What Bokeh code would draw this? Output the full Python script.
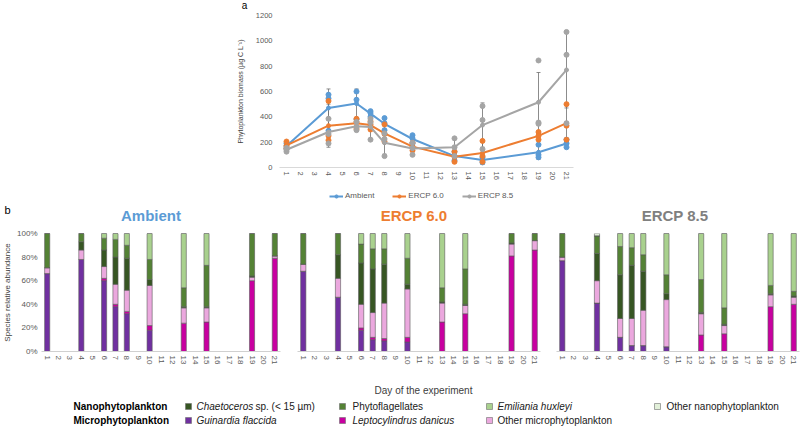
import math
from bokeh.plotting import figure
from bokeh.models import (ColumnDataSource, FactorRange, Range1d, Legend, LegendItem,
                          Whisker, TeeHead, PrintfTickFormatter, FixedTicker)
from bokeh.layouts import column, row
from bokeh.embed import file_html
from bokeh.resources import INLINE
from bokeh.core.properties import value

FONT = "Liberation Sans"
GREY_TXT = "#595959"

# ---------------- data ----------------
days = [str(d) for d in range(1, 22)]
sample_days = ["1", "4", "6", "7", "8", "10", "13", "15", "19", "21"]

# panel a: phytoplankton biomass (ug C L-1)
amb_mean = [170, 470, 505, 425, 345, 225, 90, 60, 120, 190]
e60_mean = [175, 330, 350, 335, 270, 165, 85, 115, 250, 350]
e85_mean = [140, 280, 325, 320, 195, 150, 160, 335, 515, 770]
amb_err = [20, 150, 115, 25, 50, 35, 35, 20, 55, 30]
e60_err = [30, 170, 40, 35, 70, 30, 40, 90, 30, 145]
e85_err = [15, 95, 35, 90, 90, 50, 70, 175, 235, 300]
amb_r1 = [150, 575, 600, 445, 390, 255, 125, 80, 180, 220]
amb_r2 = [170, 545, 535, 430, 350, 230, 90, 60, 100, 190]
amb_r3 = [190, 290, 380, 400, 295, 190, 55, 40, 80, 160]
e60_r1 = [205, 525, 385, 365, 340, 195, 125, 210, 280, 500]
e60_r2 = [170, 250, 360, 340, 265, 165, 85, 90, 250, 330]
e60_r3 = [150, 215, 305, 300, 205, 135, 45, 45, 220, 220]
e85_r1 = [155, 385, 360, 385, 270, 195, 230, 485, 845, 1070]
e85_r2 = [140, 265, 320, 355, 225, 155, 160, 375, 355, 890]
e85_r3 = [125, 190, 295, 220, 90, 100, 90, 145, 345, 350]

# panel b: species relative abundance (%)
amb_guin = [66, 78, 60, 38, 32, 18, 0, 0, 0, 0]
amb_lept = [0, 0, 2, 2, 2, 4, 24, 25, 60, 79]
amb_omic = [5, 8, 10, 17, 18, 34, 13, 12, 3, 2]
amb_chae = [0, 7, 14, 23, 27, 5, 1, 1, 1, 0]
amb_phyt = [29, 7, 10, 15, 11, 17, 16, 35, 36, 19]
amb_emil = [0, 0, 4, 5, 10, 22, 46, 27, 0, 0]
amb_onan = [0, 0, 0, 0, 0, 0, 0, 0, 0, 0]

e60_guin = [68, 46, 18, 10, 9, 8, 0, 0, 0, 0]
e60_lept = [0, 0, 2, 2, 2, 4, 25, 32, 81, 86]
e60_omic = [6, 16, 20, 21, 30, 41, 16, 7, 10, 8]
e60_chae = [0, 20, 35, 37, 33, 4, 1, 1, 1, 0]
e60_phyt = [26, 18, 16, 17, 13, 22, 12, 30, 8, 6]
e60_emil = [0, 0, 9, 13, 13, 21, 46, 30, 0, 0]
e60_onan = [0, 0, 0, 0, 0, 0, 0, 0, 0, 0]

e85_guin = [77, 41, 12, 5, 5, 4, 0, 0, 0, 0]
e85_lept = [0, 0, 0, 0, 0, 0, 14, 15, 38, 40]
e85_omic = [3, 19, 16, 23, 30, 40, 18, 7, 10, 6]
e85_chae = [0, 23, 37, 45, 33, 5, 1, 1, 1, 1]
e85_phyt = [20, 15, 24, 15, 14, 16, 28, 14, 7, 4]
e85_emil = [0, 0, 11, 12, 18, 35, 39, 63, 44, 49]
e85_onan = [0, 2, 0, 0, 0, 0, 0, 0, 0, 0]

stack_keys = ["guin", "lept", "omic", "chae", "phyt", "emil", "onan"]
stack_colors = ["#7030A0", "#C800A0", "#EBA8DE", "#375623", "#548235", "#A9D18E", "#E2F0D9"]

treat_names = ["Ambient", "ERCP 6.0", "ERCP 8.5"]
treat_colors = ["#5B9BD5", "#ED7D31", "#A5A5A5"]
title_colors = ["#5B9BD5", "#ED7D31", "#808080"]

tf = value(FONT)
W = 800


def text_strip(height, top):
    """A bare figure whose data units are page pixels (for titles and legends)."""
    f = figure(width=W, height=height, x_range=Range1d(0, W),
               y_range=Range1d(top + height, top), output_backend="svg",
               toolbar_location=None, min_border_left=0, min_border_right=0,
               min_border_top=0, min_border_bottom=0)
    f.axis.visible = False
    f.grid.visible = False
    f.outline_line_color = None
    return f


# ---------------- "a" header ----------------
ha = text_strip(12, 0)
ha.text(x=[244], y=[5], text=["a"], text_font=tf, text_font_size="10px",
        text_align="center", text_baseline="middle", text_color="#000000")

# ---------------- panel a ----------------
pa = figure(width=W, height=175, x_range=FactorRange(*days), y_range=Range1d(0, 1200),
            output_backend="svg", toolbar_location=None,
            min_border_left=279, min_border_right=227, min_border_top=3,
            min_border_bottom=20)
pa.outline_line_color = None
pa.grid.visible = False

series = [(amb_mean, amb_err, [amb_r1, amb_r2, amb_r3]),
          (e60_mean, e60_err, [e60_r1, e60_r2, e60_r3]),
          (e85_mean, e85_err, [e85_r1, e85_r2, e85_r3])]
for (mean, err, reps), name, col in zip(series, treat_names, treat_colors):
    for r in reps:
        pa.scatter(sample_days, r, size=5, color=col, line_color=col)
    src = ColumnDataSource(dict(x=sample_days, y=mean,
                                upper=[m + e for m, e in zip(mean, err)],
                                lower=[m - e for m, e in zip(mean, err)]))
    w = Whisker(base="x", upper="upper", lower="lower", source=src, dimension="height",
                line_color="#6E6E6E", line_width=0.8,
                upper_head=TeeHead(size=4, line_color="#6E6E6E", line_width=0.8),
                lower_head=TeeHead(size=4, line_color="#6E6E6E", line_width=0.8))
    pa.add_layout(w)
    pa.line("x", "y", source=src, line_color=col, line_width=2)
    pa.scatter("x", "y", source=src, size=4, color=col)

pa.yaxis.ticker = FixedTicker(ticks=[0, 200, 400, 600, 800, 1000, 1200])
pa.yaxis.axis_line_color = None
pa.yaxis.major_label_standoff = 7
pa.yaxis.axis_label = "Phytoplankton biomass (µg C L⁻¹)"
pa.yaxis.axis_label_standoff = 9
pa.yaxis.axis_label_text_font_style = "normal"
pa.yaxis.axis_label_text_font_size = "7px"
pa.yaxis.axis_label_text_font = FONT
pa.yaxis.axis_label_text_color = "#404040"
pa.xaxis.axis_line_color = "#D9D9D9"
pa.xaxis.major_label_orientation = -math.pi / 2
pa.xaxis.major_label_standoff = 4
for ax in (pa.xaxis, pa.yaxis):
    ax.major_tick_line_color = None
    ax.minor_tick_line_color = None
    ax.major_tick_out = 0
    ax.major_tick_in = 0
    ax.major_label_text_font = FONT
    ax.major_label_text_font_size = "7.5px"
    ax.major_label_text_color = GREY_TXT

# ---------------- legend of panel a ----------------
la = text_strip(16, 187)
items = []
for name, col in zip(treat_names, treat_colors):
    lr = la.line(x=[float("nan")], y=[float("nan")], line_color=col, line_width=2)
    mr = la.scatter(x=[float("nan")], y=[float("nan")], size=4, color=col)
    items.append(LegendItem(label=name, renderers=[lr, mr]))
leg = Legend(items=items, location=(329, 3), orientation="horizontal",
             glyph_width=14, glyph_height=8, label_standoff=2, spacing=18,
             padding=0, margin=0, border_line_color=None, background_fill_alpha=0,
             label_text_font_size="8px", label_text_color=GREY_TXT,
             label_text_font=FONT, label_height=8)
la.add_layout(leg)

# ---------------- "b" header with panel titles ----------------
hb = text_strip(22, 203)
hb.text(x=[7], y=[209], text=["b"], text_font=tf, text_font_size="11px",
        text_align="center", text_baseline="middle", text_color="#000000")
title_x = [150.5, 413.5, 674.5]
for tx, name, tcol in zip(title_x, treat_names, title_colors):
    hb.text(x=[tx], y=[215], text=[name], text_font=tf, text_font_size="15px",
            text_font_style="bold", text_align="center", text_baseline="middle",
            text_color=tcol)

# ---------------- panel b ----------------
stacks = [
    [amb_guin, amb_lept, amb_omic, amb_chae, amb_phyt, amb_emil, amb_onan],
    [e60_guin, e60_lept, e60_omic, e60_chae, e60_phyt, e60_emil, e60_onan],
    [e85_guin, e85_lept, e85_omic, e85_chae, e85_phyt, e85_emil, e85_onan],
]
geom = [(288, 37, 8), (260, 9, 8), (252, 8, 1)]
panels = []
for i, (vals, (w, bl, br)) in enumerate(zip(stacks, geom)):
    p = figure(width=w, height=154, x_range=FactorRange(*days), y_range=Range1d(0, 100),
               output_backend="svg", toolbar_location=None,
               min_border_left=bl, min_border_right=br, min_border_top=8, min_border_bottom=28)
    p.outline_line_color = None
    p.grid.visible = False
    data = {"day": sample_days}
    for k, v in zip(stack_keys, vals):
        data[k] = v
    src = ColumnDataSource(data)
    p.vbar_stack(stack_keys, x="day", width=0.45, source=src, fill_color=stack_colors,
                 line_color="#5A5A5A", line_width=0.6)
    p.xaxis.axis_line_color = "#D0D0D0"
    p.xaxis.major_label_orientation = -math.pi / 2
    p.xaxis.major_label_standoff = 4
    for ax in (p.xaxis, p.yaxis):
        ax.major_tick_line_color = None
        ax.minor_tick_line_color = None
        ax.major_tick_out = 0
        ax.major_tick_in = 0
        ax.major_label_text_font = FONT
        ax.major_label_text_font_size = "8px"
        ax.major_label_text_color = GREY_TXT
    if i == 0:
        p.yaxis.ticker = FixedTicker(ticks=[0, 20, 40, 60, 80, 100])
        p.yaxis.formatter = PrintfTickFormatter(format="%d%%")
        p.yaxis.axis_line_color = None
        p.yaxis.major_label_standoff = 4
        p.yaxis.axis_label = "Species relative abundance"
        p.yaxis.axis_label_standoff = 2
        p.yaxis.axis_label_text_font_style = "normal"
        p.yaxis.axis_label_text_font_size = "8px"
        p.yaxis.axis_label_text_font = FONT
        p.yaxis.axis_label_text_color = "#404040"
    else:
        p.yaxis.visible = False
    panels.append(p)

# ---------------- bottom legend ----------------
pl = text_strip(47, 379)

leg_group = ["Nanophytoplankton", "Microphytoplankton"]
leg_group_x = [73, 73]
leg_row_y = [406, 420]
leg_sq_x = [188, 342, 489, 657]
leg_txt_x = [196, 352, 497, 666]
nano_labels = ["Chaetoceros", "Phytoflagellates", "Emiliania huxleyi", "Other nanophytoplankton"]
nano_italic = [True, False, True, False]
nano_colors = ["#375623", "#548235", "#A9D18E", "#E2F0D9"]
micro_labels = ["Guinardia flaccida", "Leptocylindrus danicus", "Other microphytoplankton"]
micro_italic = [True, True, False]
micro_colors = ["#7030A0", "#C800A0", "#EBA8DE"]

pl.text(x=[423], y=[390], text=["Day of the experiment"], text_font=tf, text_font_size="10px",
        text_align="center", text_baseline="middle", text_color="#404040")
pl.text(x=leg_group_x, y=leg_row_y, text=leg_group, text_font=tf, text_font_size="10px",
        text_font_style="bold", text_align="left", text_baseline="middle", text_color="#000000")
pl.scatter(x=leg_sq_x, y=[leg_row_y[0]] * 4, marker="square", size=6,
           fill_color=nano_colors, line_color="#6E6E6E", line_width=0.6)
pl.scatter(x=leg_sq_x[:3], y=[leg_row_y[1]] * 3, marker="square", size=6,
           fill_color=micro_colors, line_color="#6E6E6E", line_width=0.6)
for lbls, ital, yy in ((nano_labels, nano_italic, leg_row_y[0]), (micro_labels, micro_italic, leg_row_y[1])):
    for xx, t, it in zip(leg_txt_x, lbls, ital):
        pl.text(x=[xx], y=[yy], text=[t], text_font=tf, text_font_size="10px",
                text_font_style="italic" if it else "normal", text_align="left",
                text_baseline="middle", text_color="#202020")
pl.text(x=[255], y=[leg_row_y[0]], text=["sp. (< 15 µm)"], text_font=tf, text_font_size="10px",
        text_align="left", text_baseline="middle", text_color="#202020")

layout = column(row(ha), row(pa), row(la), row(hb), row(*panels), row(pl))
open("out.html", "w").write(file_html(layout, INLINE))
